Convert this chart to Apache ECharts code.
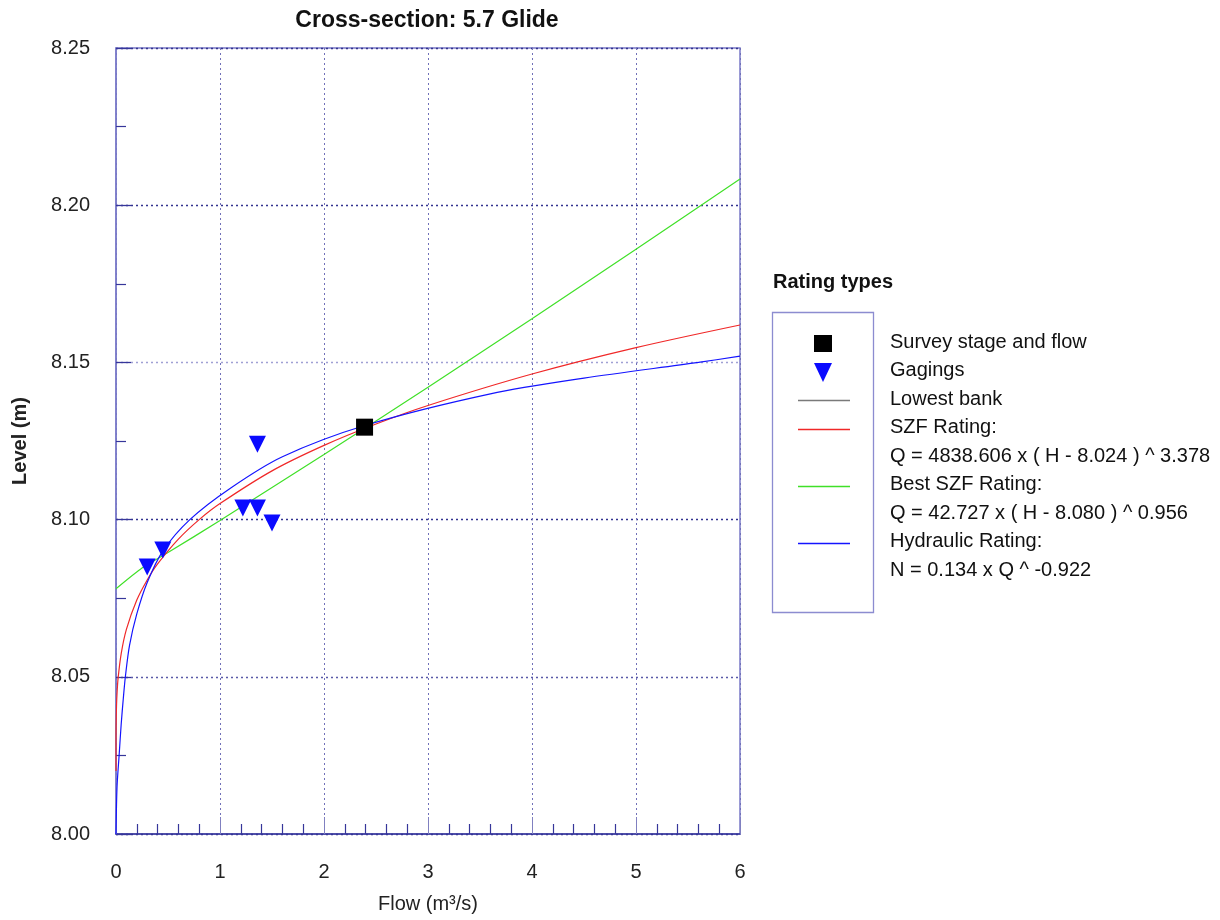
<!DOCTYPE html>
<html>
<head>
<meta charset="utf-8">
<script src="https://cdn.jsdelivr.net/npm/echarts@6/dist/echarts.min.js"></script>
<style>html,body{margin:0;padding:0;background:#fff}#c{width:1220px;height:920px}</style>
</head>
<body>
<div id="c"></div>
<script>
// Survey stage and flow
const surveyFlow = [2.39];
const surveyLevel = [8.1294];
// Gagings
const gagingFlow = [0.30, 0.45, 1.22, 1.36, 1.50, 1.36];
const gagingLevel = [8.0849, 8.0903, 8.1037, 8.1037, 8.0989, 8.1240];
// SZF Rating curve
const szfFlow  = [0, 0.0001, 0.001, 0.005, 0.01, 0.02, 0.05, 0.1, 0.2, 0.3, 0.4, 0.6, 0.8, 1.0, 1.5, 2, 2.5, 3, 4, 5, 6];
const szfLevel = [8.020, 8.029, 8.0345, 8.0409, 8.0448, 8.0495, 8.0574, 8.0651, 8.0744, 8.0808, 8.0859, 8.0938, 8.1000, 8.1051, 8.1155, 8.1236, 8.1304, 8.1363, 8.1463, 8.1547, 8.1619];
// Best SZF Rating curve
const bestFlow  = [0, 0.25, 0.5, 1, 2, 3, 4, 5, 6];
const bestLevel = [8.078, 8.0846, 8.0895, 8.0997, 8.1207, 8.1421, 8.1639, 8.186, 8.2083];
// Hydraulic Rating curve
const hydFlow  = [0, 0.01, 0.03, 0.05, 0.07, 0.09, 0.13, 0.2, 0.3, 0.45, 0.71, 1.1, 1.6, 2.4, 3.6, 4.5, 5.6, 6];
const hydLevel = [8.000, 8.015, 8.025, 8.035, 8.043, 8.050, 8.060, 8.070, 8.080, 8.090, 8.100, 8.110, 8.120, 8.130, 8.140, 8.145, 8.150, 8.152];
// Axis ticks
const xTicks = { min: 0, max: 6, interval: 1 };
const yTicks = { min: 8.00, max: 8.25, interval: 0.05 };
const legendLines = [
  'Survey stage and flow', 'Gagings', 'Lowest bank', 'SZF Rating:',
  'Q = 4838.606 x ( H - 8.024 ) ^ 3.378', 'Best SZF Rating:',
  'Q = 42.727 x ( H - 8.080 ) ^ 0.956', 'Hydraulic Rating:', 'N = 0.134 x Q ^ -0.922'
];

const zip = (a, b) => a.map((v, i) => [v, b[i]]);
const FONT = 'Liberation Sans, Arial, sans-serif';
const AX = '#36369a';

const chart = echarts.init(document.getElementById('c'), null, { renderer: 'canvas' });

const legendTop = 342, legendStep = 28.5;
const graphic = [
  { type: 'text', x: 427, y: 21, style: { text: 'Cross-section: 5.7 Glide', font: 'bold 23px ' + FONT, fill: '#111', align: 'center', verticalAlign: 'middle' } },
  { type: 'text', x: 773, y: 282, style: { text: 'Rating types', font: 'bold 20px ' + FONT, fill: '#111', verticalAlign: 'middle' } },
  { type: 'rect', shape: { x: 772.5, y: 312.5, width: 101, height: 300 }, style: { fill: 'none', stroke: '#8c8cd0', lineWidth: 1.3 } },
  { type: 'rect', shape: { x: 814, y: 335, width: 18, height: 17 }, style: { fill: '#000' } },
  { type: 'polygon', shape: { points: [[814, 363], [832, 363], [823, 382]] }, style: { fill: '#0a0aff' } },
  { type: 'line', shape: { x1: 798, y1: 400.5, x2: 850, y2: 400.5 }, style: { stroke: '#7a7a7a', lineWidth: 1.3 } },
  { type: 'line', shape: { x1: 798, y1: 429.5, x2: 850, y2: 429.5 }, style: { stroke: '#f02828', lineWidth: 1.3 } },
  { type: 'line', shape: { x1: 798, y1: 486.5, x2: 850, y2: 486.5 }, style: { stroke: '#40e028', lineWidth: 1.3 } },
  { type: 'line', shape: { x1: 798, y1: 543.5, x2: 850, y2: 543.5 }, style: { stroke: '#1414ff', lineWidth: 1.3 } }
];
legendLines.forEach((t, i) => {
  graphic.push({ type: 'text', x: 890, y: legendTop + i * legendStep,
    style: { text: t, font: '20px ' + FONT, fill: '#111', verticalAlign: 'middle' } });
});

chart.setOption({
  backgroundColor: '#fff',
  animation: false,
  grid: { left: 116, right: 480, top: 48, bottom: 86, show: true, borderColor: '#7a7ac8', borderWidth: 1.5 },
  xAxis: {
    type: 'value', min: xTicks.min, max: xTicks.max, interval: xTicks.interval,
    name: 'Flow (m³/s)', nameLocation: 'middle', nameGap: 60,
    nameTextStyle: { fontFamily: FONT, fontSize: 20, color: '#222' },
    axisLine: { show: true, onZero: false, lineStyle: { color: AX, width: 1.6 } },
    axisTick: { show: true, inside: true, length: 17, lineStyle: { color: '#8080c0' } },
    minorTick: { show: true, splitNumber: 5, length: 10, lineStyle: { color: AX, width: 1.2 } },
    axisLabel: { margin: 28, fontFamily: FONT, fontSize: 20, color: '#222' },
    splitLine: { show: true, lineStyle: { color: '#7070b8', type: [2, 3], width: 1 } }
  },
  yAxis: {
    type: 'value', min: yTicks.min, max: yTicks.max, interval: yTicks.interval,
    name: 'Level (m)', nameLocation: 'middle', nameGap: 86,
    nameTextStyle: { fontFamily: FONT, fontSize: 20, fontWeight: 'bold', color: '#222' },
    axisLine: { show: true, lineStyle: { color: '#7a7ac8', width: 1.5 } },
    axisTick: { show: true, inside: true, length: 15, lineStyle: { color: AX, width: 1.3 } },
    minorTick: { show: true, splitNumber: 2, length: 10, lineStyle: { color: AX, width: 1.2 } },
    axisLabel: { margin: 26, fontFamily: FONT, fontSize: 20, color: '#222', formatter: v => v.toFixed(2) },
    splitLine: { show: true, lineStyle: { color: ['#33338f', '#5a5aa8', '#33338f', '#a0a0d4', '#33338f', '#33338f'], type: [2, 3], width: 1.3 } }
  },
  series: [
    { name: 'Lowest bank', type: 'line', data: [], lineStyle: { color: '#808080' } },
    { name: 'Best SZF Rating', type: 'line', data: zip(bestFlow, bestLevel), showSymbol: false, smooth: 0.2,
      lineStyle: { color: '#40e028', width: 1.2 }, z: 3 },
    { name: 'SZF Rating', type: 'line', data: zip(szfFlow, szfLevel), showSymbol: false, smooth: 0.3,
      lineStyle: { color: '#f02828', width: 1.2 }, z: 4 },
    { name: 'Hydraulic Rating', type: 'line', data: zip(hydFlow, hydLevel), showSymbol: false, smooth: 0.3,
      lineStyle: { color: '#1414ff', width: 1.2 }, z: 5 },
    { name: 'Gagings', type: 'scatter', data: zip(gagingFlow, gagingLevel), symbol: 'triangle', symbolRotate: 180,
      symbolSize: [17, 17], itemStyle: { color: '#0a0aff', opacity: 1 }, z: 6 },
    { name: 'Survey stage and flow', type: 'scatter', data: zip(surveyFlow, surveyLevel), symbol: 'rect',
      symbolSize: 17, itemStyle: { color: '#000', opacity: 1 }, z: 7 }
  ],
  graphic: graphic
});
</script>
</body>
</html>
